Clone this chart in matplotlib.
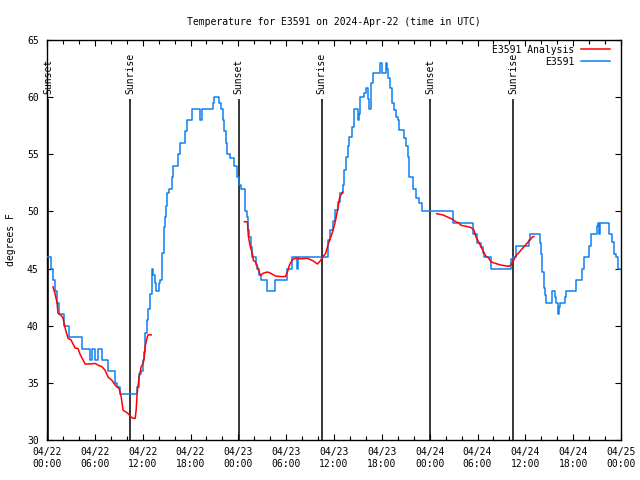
import numpy as np
import pandas as pd
import matplotlib
matplotlib.use('Agg')
import matplotlib.pyplot as plt
import matplotlib.dates as mdates

START = pd.Timestamp('2024-04-22 00:00')

# station obs: hours after START where the reading changes, deg F
obs_hours = [0, 0.50, 0.75, 1.01, 1.26, 1.51, 2.14, 2.76, 4.40, 5.34, 5.59, 6.03, 6.41, 6.85,
             7.67, 8.55, 8.80, 9.17, 11.31, 11.56, 11.81, 12.00, 12.19, 12.31, 12.57, 12.69,
             12.94, 13.19, 13.32, 13.57, 13.70, 14.07, 14.20, 14.39, 14.45, 14.70, 14.83, 14.95,
             15.08, 15.33, 15.71, 15.83, 16.46, 16.71, 17.34, 17.59, 18.22, 19.23, 19.41, 20.86,
             20.98, 21.61, 21.86, 22.12, 22.24, 22.49, 22.62, 23.00, 23.50, 23.88, 24.13, 24.38,
             24.88, 25.13, 25.26, 25.38, 25.64, 25.76, 26.26, 26.39, 26.64, 26.89, 27.65, 28.65,
             30.16, 30.79, 31.42, 31.54, 35.19, 35.31, 35.56, 35.82, 36.07, 36.44, 36.70, 37.07,
             37.20, 37.45, 37.70, 37.82, 38.20, 38.45, 38.96, 39.08, 39.21, 39.71, 39.96, 40.21,
             40.34, 40.59, 40.84, 41.72, 41.97, 42.48, 42.60, 42.73, 42.98, 43.23, 43.48, 43.73,
             43.98, 44.11, 44.74, 44.99, 45.24, 45.43, 45.87, 46.24, 46.62, 47.00, 50.89, 53.41,
             53.91, 54.41, 54.66, 54.79, 55.67, 58.18, 58.43, 58.81, 60.44, 60.57, 61.82, 61.95,
             62.08, 62.33, 62.45, 62.58, 63.33, 63.71, 63.84, 64.09, 64.21, 64.34, 64.97, 65.09,
             66.35, 67.10, 67.35, 67.98, 68.23, 68.99, 69.11, 69.24, 69.36, 70.50, 70.87, 71.12,
             71.37, 71.63, 72.0]
obs_temps = [46, 45, 44, 43, 42, 41, 40, 39, 38, 37, 38, 37, 38, 37,
             36, 35, 34.6, 34, 34.6, 35.8, 36, 37, 37.7, 39.4, 40.5, 41.5,
             42.8, 45, 44.4, 43.7, 43, 43.7, 44, 45.5, 46.4, 48.6, 49.5, 50.5,
             51.6, 52, 53, 54, 55, 56, 57, 58, 59, 58, 59, 59.5,
             60, 59.5, 59, 58, 57, 56, 55, 54.7, 54, 53, 52.3, 52,
             50, 49.5, 48.4, 47.8, 46.9, 46, 45.3, 45, 44.4, 44, 43, 44,
             45, 46, 45, 46, 46.6, 47.5, 48.4, 49.2, 50.1, 50.8, 51.6, 52.3,
             53.6, 54.8, 55.7, 56.5, 57.4, 59, 58, 58.5, 60, 60.4, 60.8, 59.8,
             59, 61.2, 62.1, 63, 62.1, 63, 62.5, 61.7, 60.8, 59.5, 58.9, 58.3,
             58, 57.1, 56.4, 55.7, 54.8, 53, 52, 51.2, 50.7, 50, 49, 48,
             47.2, 46.9, 46.4, 46, 45, 45.8, 46, 47, 47.5, 48, 47.2, 46.3,
             44.7, 43.3, 42.7, 42, 43, 42.5, 42, 41, 41.6, 42, 42.5, 43,
             44, 45, 46, 47, 48, 48.7, 49, 48, 49, 48, 47.3, 46.3,
             46, 45, 45]

# analysis, three pieces
ana_hours_1 = [0.75, 1.01, 1.26, 1.38, 1.76, 2.01, 2.14, 2.39, 2.64, 3.02, 3.27, 3.52, 3.90,
               4.15, 4.52, 4.78, 5.40, 6.03, 6.41, 6.91, 7.29, 7.67, 8.17, 8.55, 9.05, 9.30,
               9.55, 9.93, 10.18, 10.56, 10.81, 11.06, 11.18, 11.31, 11.56, 11.81, 12.06,
               12.19, 12.31, 12.57, 12.69, 13.07]
ana_temps_1 = [43.4, 42.8, 42, 41.1, 40.9, 40.7, 40.2, 39.5, 38.9, 38.75, 38.4, 38.05, 38,
               37.5, 37, 36.65, 36.65, 36.7, 36.55, 36.4, 36.1, 35.5, 35.2, 34.8, 34.5, 33.8,
               32.6, 32.45, 32.3, 32, 31.9, 31.9, 32.6, 34.1, 35.5, 36.4, 36.7,
               37.2, 38.2, 39, 39.2, 39.2]
ana_hours_2 = [24.76, 25.13, 25.19, 25.26, 25.51, 25.76, 25.89, 26.14, 26.39, 26.51, 26.77,
               27.14, 27.65, 28.02, 28.65, 29.28, 29.91, 30.16, 30.41, 30.79, 31.17, 31.79,
               32.67, 33.30, 33.93, 34.31, 34.56, 34.93, 35.31, 35.82, 36.19, 36.57, 36.70,
               37.07]
ana_temps_2 = [49.1, 49.1, 48.6, 47.8, 46.9, 46.3, 45.7, 45.6, 45.2, 44.9, 44.4,
               44.6, 44.7, 44.6, 44.35, 44.3, 44.3, 44.7, 45.3, 45.8, 45.9, 45.85,
               45.9, 45.7, 45.4, 45.7, 46, 46.3, 47.2, 48.2, 49.2, 50.6, 51.2,
               51.7]
ana_hours_3 = [48.88, 49.64, 50.27, 50.89, 51.27, 51.65, 51.90, 53.16, 53.53, 53.79, 54.16,
               54.66, 55.04, 55.42, 55.67, 56.05, 56.93, 57.93, 58.18, 58.43, 58.81, 59.19,
               59.69, 60.07, 60.44, 60.95, 61.07]
ana_temps_3 = [49.8, 49.7, 49.5, 49.3, 49.1, 49, 48.8, 48.6, 48.4, 47.8, 47.3,
               46.6, 46.1, 45.9, 45.6, 45.5, 45.3, 45.2, 45.3, 45.6, 46.1, 46.4,
               46.8, 47.1, 47.4, 47.8, 47.8]

sunset_hours = [0.15, 24.05, 48.1]
sunrise_hours = [10.43, 34.45, 58.47]


def to_time(hours):
    return START + pd.to_timedelta(np.asarray(hours, dtype=float), unit='h')


def main():
    plt.rcParams['font.family'] = ['DejaVu Sans Mono']
    plt.rcParams['font.size'] = 7

    fig = plt.figure(figsize=(6.4, 4.8), dpi=100)
    ax = fig.add_axes([47 / 640, 40 / 480, 574 / 640, 400 / 480])

    blue = '#0f80f0'
    red = '#ff0000'

    ax.plot(to_time(obs_hours), obs_temps, drawstyle='steps-post', color=blue, lw=1.1,
            label='E3591', zorder=3)
    ana_line = None
    for hrs, tmp in [(ana_hours_1, ana_temps_1), (ana_hours_2, ana_temps_2),
                     (ana_hours_3, ana_temps_3)]:
        ln, = ax.plot(to_time(hrs), tmp, color=red, lw=1.1, zorder=4)
        ana_line = ana_line or ln
    ana_line.set_label('E3591 Analysis')

    for name, hrs in [('Sunset', sunset_hours), ('Sunrise', sunrise_hours)]:
        for t in to_time(hrs):
            ax.vlines(t, 30, 59.8, color='black', lw=1.1, zorder=2)
            ax.text(t, 60.3, name, rotation=90, ha='center', va='bottom', zorder=5)

    ax.set_xlim(START, START + pd.Timedelta(hours=72))
    ax.set_ylim(30, 65)
    ax.set_yticks(range(30, 66, 5))
    ax.xaxis.set_major_locator(mdates.HourLocator(byhour=range(0, 24, 6)))
    ax.xaxis.set_minor_locator(mdates.HourLocator(interval=2))
    ax.xaxis.set_major_formatter(mdates.DateFormatter('%m/%d\n%H:%M'))

    ax.tick_params(which='both', direction='in', top=True, right=True, width=0.8)
    ax.tick_params(which='major', length=4)
    ax.tick_params(which='minor', length=3)
    ax.tick_params(axis='x', pad=5)
    ax.tick_params(axis='y', pad=6)
    for s in ax.spines.values():
        s.set_linewidth(1.0)

    ax.set_ylabel('degrees F', labelpad=8)
    ax.set_title('Temperature for E3591 on 2024-Apr-22 (time in UTC)', fontsize=7, pad=11)

    ax.legend(handles=[ana_line, ax.lines[0]], loc='upper right',
              bbox_to_anchor=(0.988, 0.998), borderaxespad=0, frameon=False,
              markerfirst=False, handlelength=3.0, labelspacing=0.2,
              handletextpad=0.7)

    fig.savefig('out.png', dpi=100)


if __name__ == "__main__":
    main()
